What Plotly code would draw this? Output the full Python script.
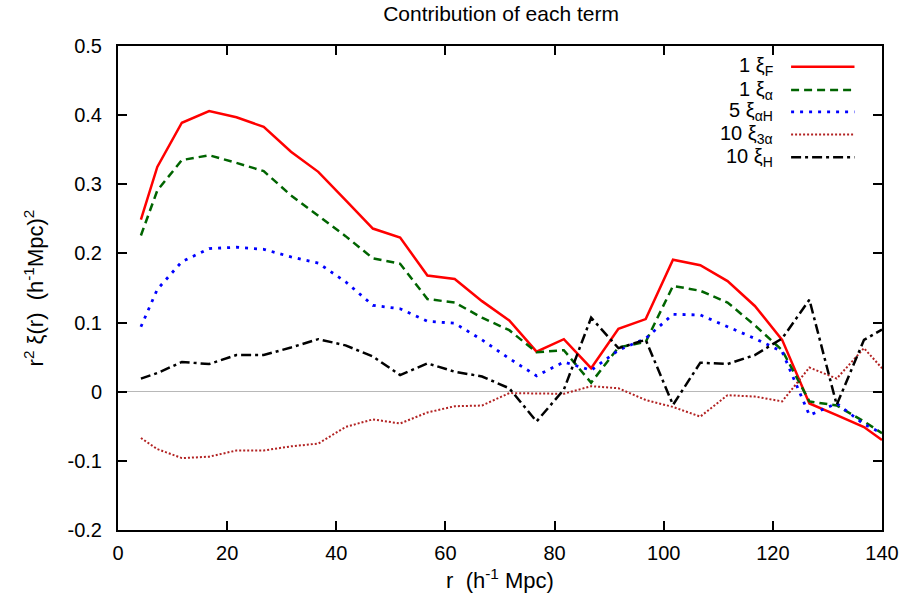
import plotly.graph_objects as go

# r positions (h^-1 Mpc)
r = [4.2, 7.2, 11.7, 16.7, 21.7, 26.7, 31.7, 36.7, 41.7, 46.7, 51.7, 56.7, 61.7, 66.7,
     71.7, 76.7, 81.7, 86.7, 91.7, 96.7, 101.7, 106.7, 111.7, 116.7, 121.7, 126.7,
     131.7, 136.7, 140.0]

xi_F = [0.249, 0.325, 0.389, 0.406, 0.397, 0.383, 0.347, 0.318, 0.277, 0.236, 0.223,
        0.168, 0.163, 0.131, 0.103, 0.058, 0.076, 0.034, 0.091, 0.105, 0.191, 0.183,
        0.160, 0.124, 0.075, -0.017, -0.034, -0.051, -0.070]
xi_a = [0.226, 0.291, 0.335, 0.342, 0.331, 0.319, 0.284, 0.255, 0.225, 0.193, 0.185,
        0.134, 0.129, 0.107, 0.089, 0.057, 0.060, 0.013, 0.064, 0.072, 0.153, 0.146,
        0.129, 0.096, 0.060, -0.014, -0.020, -0.043, -0.060]
xi_aH = [0.094, 0.148, 0.188, 0.207, 0.209, 0.206, 0.195, 0.186, 0.159, 0.125, 0.120,
         0.102, 0.099, 0.075, 0.048, 0.023, 0.043, 0.031, 0.060, 0.077, 0.112, 0.111,
         0.094, 0.077, 0.058, -0.034, -0.017, -0.047, -0.060]
xi_3a = [-0.067, -0.083, -0.096, -0.094, -0.085, -0.085, -0.079, -0.075, -0.051, -0.040,
         -0.046, -0.030, -0.021, -0.020, -0.002, -0.002, -0.003, 0.008, 0.005, -0.012,
         -0.022, -0.036, -0.005, -0.007, -0.014, 0.035, 0.019, 0.063, 0.034]
xi_H = [0.019, 0.027, 0.043, 0.040, 0.053, 0.053, 0.064, 0.076, 0.067, 0.051, 0.024,
        0.041, 0.029, 0.022, 0.005, -0.043, 0.003, 0.107, 0.063, 0.075, -0.019, 0.042,
        0.040, 0.053, 0.077, 0.133, -0.019, 0.075, 0.090]

labels = ["1 ξ<sub>F</sub>", "1 ξ<sub>α</sub>", "5 ξ<sub>αH</sub>",
          "10 ξ<sub>3α</sub>", "10 ξ<sub>H</sub>"]
series = [xi_F, xi_a, xi_aH, xi_3a, xi_H]
colors = ["#ff0000", "#006400", "#0000ff", "#b22222", "#000000"]
dashes = ["solid", "8px,5px", "3px,6px", "2px,2px", "10px,4px,3px,4px"]
widths = [2.5, 2.5, 2.8, 2.0, 2.5]

FONT = "Liberation Sans, Arial, sans-serif"

fig = go.Figure()
for y, c, d, w, lab in zip(series, colors, dashes, widths, labels):
    fig.add_trace(go.Scatter(x=r, y=y, mode="lines", name=lab,
                             line=dict(color=c, dash=d, width=w)))

# legend drawn gnuplot-style: text on the left, sample on the right
row_y = [0.957, 0.909, 0.864, 0.817, 0.770]
for lab, c, d, w, yy in zip(labels, colors, dashes, widths, row_y):
    fig.add_annotation(xref="paper", yref="paper", x=0.860, y=yy, text=lab,
                       showarrow=False, xanchor="right", yanchor="middle",
                       font=dict(family=FONT, size=20, color="black"))
    fig.add_shape(type="line", xref="paper", yref="paper",
                  x0=0.881, x1=0.964, y0=yy, y1=yy,
                  line=dict(color=c, dash=d, width=w))

axis_common = dict(showgrid=False, showline=True, linecolor="black", linewidth=2,
                   mirror="ticks", ticks="inside", ticklen=9, tickwidth=1.5,
                   tickcolor="black", tickfont=dict(family=FONT, size=20, color="black"))

fig.update_layout(
    width=911, height=605,
    paper_bgcolor="white", plot_bgcolor="white",
    margin=dict(l=118, r=22, t=46, b=75),
    showlegend=False,
    title=dict(text="Contribution of each term", x=0.55, xanchor="center",
               y=0.978, yanchor="middle",
               font=dict(family=FONT, size=21, color="black")),
    xaxis=dict(range=[0, 140], tickvals=[0, 20, 40, 60, 80, 100, 120, 140],
               title=dict(text="r  (h<sup>-1</sup> Mpc)", standoff=10,
                          font=dict(family=FONT, size=22, color="black")),
               ticklabelstandoff=4,
               zeroline=False, **axis_common),
    yaxis=dict(range=[-0.2, 0.5], tickvals=[-0.2, -0.1, 0, 0.1, 0.2, 0.3, 0.4, 0.5],
               ticktext=["-0.2", "-0.1", "0", "0.1", "0.2", "0.3", "0.4", "0.5"],
               title=dict(text="r<sup>2</sup> ξ(r)  (h<sup>-1</sup>Mpc)<sup>2</sup>",
                          standoff=18, font=dict(family=FONT, size=22, color="black")),
               ticklabelstandoff=10,
               zeroline=True, zerolinecolor="#b8b8b8", zerolinewidth=1,
               **axis_common),
)

fig.write_html("out.html", config={"displayModeBar": False},
               post_script="document.body.style.margin='0';")
